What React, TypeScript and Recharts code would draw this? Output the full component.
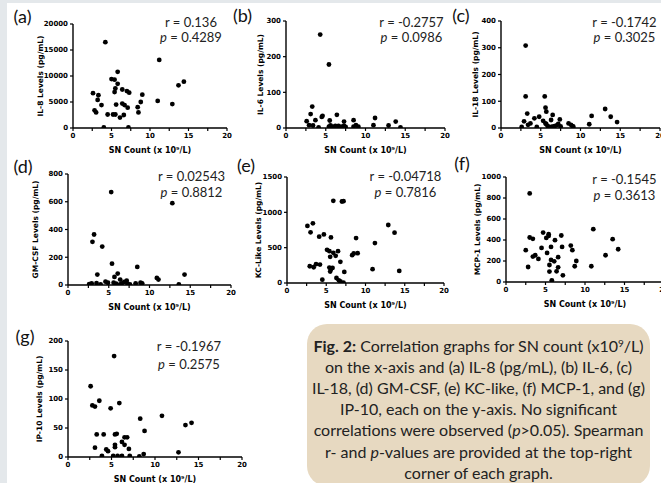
import React from 'react';
import { ScatterChart, Scatter, XAxis, YAxis } from 'recharts';

// ---------- data (x = SN count x10^9/L, y = cytokine level pg/mL) ----------
const xTicks = [0, 2.5, 5, 7.5, 10, 12.5, 15, 17.5, 20];
const xTitle = 'SN Count (x 10⁹/L)';

const il8: number[][] = [
  [4.2, 16500], [11.2, 13100], [5.8, 10800], [5.0, 9400], [5.4, 9300], [14.4, 8900], [13.7, 8200],
  [5.8, 8500], [5.5, 7600], [5.4, 6900], [6.4, 7400], [7.0, 7100], [7.3, 6800], [2.6, 6700],
  [9.0, 6400], [3.3, 6300], [3.2, 5400], [11.0, 5200], [8.8, 5000], [3.7, 4400], [5.6, 4500],
  [6.4, 4700], [6.7, 4400], [12.9, 4600], [7.1, 3900], [8.4, 4000], [2.8, 3400], [3.0, 3000],
  [8.5, 3000], [4.5, 2600], [5.2, 2600], [5.5, 2600], [6.6, 2500], [6.1, 2000], [4.0, 100], [7.2, 100],
];
const il6: number[][] = [
  [4.3, 262], [5.4, 178], [3.3, 60], [6.4, 37], [4.6, 34], [4.5, 31], [3.1, 39], [11.2, 28],
  [3.7, 22], [2.6, 19], [8.5, 22], [5.5, 21], [13.8, 18], [7.3, 18], [2.9, 8], [3.4, 7], [4.1, 2],
  [5.4, 4], [5.6, 7], [5.8, 4], [6.2, 6], [6.6, 6], [7.0, 4], [7.3, 6], [8.8, 8], [9.1, 4],
  [11.0, 8], [12.9, 7], [14.4, 2], [8.5, 4], [7.5, 3],
];
const il18: number[][] = [
  [3.1, 308], [3.1, 118], [5.5, 118], [5.6, 76], [5.7, 61], [3.3, 54], [13.1, 71], [6.5, 49],
  [4.8, 42], [11.4, 45], [13.8, 42], [4.2, 36], [5.3, 27], [6.3, 30], [7.4, 32], [2.9, 25],
  [14.6, 22], [3.7, 17], [3.4, 12], [8.5, 17], [8.8, 12], [11.1, 14], [5.7, 14], [5.9, 7],
  [5.6, 17], [6.7, 7], [7.0, 10], [7.2, 15], [7.5, 6], [9.1, 5], [2.6, 4], [4.5, 4], [6.4, 5], [9.0, 7],
];
const gmcsf: number[][] = [
  [5.3, 670], [12.8, 590], [3.2, 364], [3.0, 311], [4.2, 277], [5.4, 154], [8.5, 130], [3.6, 75],
  [14.3, 75], [6.1, 82], [5.7, 58], [10.9, 51], [11.1, 39], [6.4, 39], [7.2, 31], [6.9, 22],
  [4.6, 24], [4.9, 17], [5.6, 17], [5.9, 10], [6.6, 12], [7.3, 10], [8.3, 12], [8.9, 17],
  [9.1, 12], [2.6, 7], [2.9, 12], [3.5, 14], [4.0, 5], [13.6, 5], [6.4, 5], [7.6, 4],
];
const kcLike: number[][] = [
  [5.9, 1163], [7.0, 1153], [7.2, 1158], [12.9, 821], [3.3, 845], [2.6, 807], [3.0, 717],
  [13.7, 712], [4.7, 688], [4.1, 655], [5.6, 645], [8.8, 636], [11.2, 565], [5.1, 470],
  [5.4, 451], [6.5, 451], [5.9, 427], [9.0, 422], [8.5, 418], [8.3, 394], [6.2, 384], [5.5, 370],
  [6.8, 299], [2.9, 237], [3.4, 223], [3.7, 266], [4.2, 261], [5.4, 218], [5.8, 214], [5.6, 195],
  [5.5, 161], [7.3, 157], [10.9, 195], [14.3, 171], [4.5, 47], [6.3, 71], [6.6, 38], [6.8, 24], [7.2, 5],
];
const mcp1: number[][] = [
  [3.0, 844], [11.05, 503], [4.7, 471], [5.4, 455], [5.4, 439], [7.0, 443], [5.1, 420], [3.0, 424],
  [3.4, 411], [6.2, 398], [13.5, 408], [8.2, 347], [7.1, 334], [4.5, 325], [5.7, 334], [2.5, 303],
  [8.4, 303], [14.2, 312], [5.2, 277], [12.6, 255], [3.4, 242], [3.7, 255], [4.1, 220], [5.7, 210],
  [6.1, 197], [8.9, 200], [6.6, 236], [2.8, 143], [8.7, 150], [10.8, 150], [5.5, 162], [6.6, 140],
  [6.4, 102], [5.5, 99], [7.2, 64], [5.8, 16],
];
const ip10: number[][] = [
  [5.3, 174], [2.6, 122], [3.6, 97], [2.8, 89], [3.1, 87], [4.9, 84], [5.9, 93], [8.3, 66],
  [10.8, 71], [13.5, 55], [14.2, 59], [8.8, 45], [3.3, 39], [4.1, 39], [5.4, 39], [5.6, 40],
  [6.5, 34], [6.8, 34], [6.2, 26], [6.5, 21], [5.4, 21], [5.4, 17], [7.0, 14], [3.1, 16],
  [4.4, 13], [4.6, 10], [3.9, 2], [5.2, 2], [5.7, 2], [6.2, 2], [7.1, 2], [8.2, 1], [8.7, 5], [12.7, 8],
];

const panelLetters = ['(a)', '(b)', '(c)', '(d)', '(e)', '(f)', '(g)'];
const yTitles = [
  'IL-8 Levels (pg/mL)', 'IL-6 Levels (pg/mL)', 'IL-18 Levels (pg/mL)', 'GM-CSF Levels (pg/mL)',
  'KC-Like Levels (pg/mL)', 'MCP-1 Levels (pg/mL)', 'IP-10 Levels (pg/mL)',
];
const yTickSets = [
  [0, 5000, 10000, 15000, 20000], [0, 100, 200, 300], [0, 100, 200, 300, 400], [0, 200, 400, 600, 800],
  [0, 500, 1000, 1500], [0, 200, 400, 600, 800, 1000], [0, 50, 100, 150, 200],
];
const rValues = ['0.136', '-0.2757', '-0.1742', '0.02543', '-0.04718', '-0.1545', '-0.1967'];
const pValues = ['0.4289', '0.0986', '0.3025', '0.8812', '0.7816', '0.3613', '0.2575'];
const datasets = [il8, il6, il18, gmcsf, kcLike, mcp1, ip10];

// ---------- layout (page pixels) ----------
const layout = [
  { x0: 73, x20: 227, yTop: 24, yBot: 128, titleX: 40, sx: 191, ry: 22.7, py: 37.3, lx: 22.5, ly: 17.5 },
  { x0: 286, x20: 445, yTop: 21, yBot: 128, titleX: 260, sx: 411.5, ry: 22.7, py: 37.3, lx: 242.5, ly: 17 },
  { x0: 501, x20: 660, yTop: 21, yBot: 128, titleX: 475, sx: 624.5, ry: 22.7, py: 37.3, lx: 461, ly: 17 },
  { x0: 68, x20: 231, yTop: 174, yBot: 285, titleX: 35, sx: 191.5, ry: 176, py: 192.7, lx: 23, ly: 168 },
  { x0: 287, x20: 444, yTop: 177, yBot: 283, titleX: 258, sx: 405.5, ry: 176.7, py: 192.7, lx: 246, ly: 166.7 },
  { x0: 506, x20: 664, yTop: 177, yBot: 282, titleX: 477, sx: 624.5, ry: 179.3, py: 195, lx: 462, ly: 165 },
  { x0: 68, x20: 242, yTop: 341, yBot: 457, titleX: 39.3, sx: 189, ry: 346.7, py: 364, lx: 25, ly: 337.5 },
];

const TICK_FONT = { fontSize: 7, fontWeight: 700, fill: '#000', fontFamily: 'DejaVu Sans' };
const AXIS_STYLE = { stroke: '#000', strokeWidth: 1.4 };
const TICK_LINE = { stroke: '#000', strokeWidth: 1.2 };

const Dot = (props: any) => <circle cx={props.cx} cy={props.cy} r={2.4} fill="#000" />;

function Panel({ idx }: { idx: number }) {
  const L = layout[idx];
  const ML = 50, MT = 8, MR = 8, XH = 30;
  const pw = L.x20 - L.x0;
  const ph = L.yBot - L.yTop;
  const ticks = yTickSets[idx];
  const ymax = ticks[ticks.length - 1];
  const data = datasets[idx].map(([x, y]) => ({ x, y }));
  return (
    <div style={{ position: 'absolute', left: L.x0 - ML, top: L.yTop - MT }}>
      <ScatterChart width={pw + ML + MR} height={ph + MT + XH} margin={{ top: MT, right: MR, left: 0, bottom: 0 }}>
        <XAxis
          type="number" dataKey="x" domain={[0, 20]} ticks={xTicks} interval={0} height={XH}
          tickSize={3} tickMargin={2} axisLine={AXIS_STYLE} tickLine={TICK_LINE}
          tick={TICK_FONT} tickFormatter={(v: number) => (v % 5 === 0 ? String(v) : '')}
          allowDataOverflow
        />
        <YAxis
          type="number" dataKey="y" domain={[0, ymax]} ticks={ticks} interval={0} width={ML}
          tickSize={3} tickMargin={2} axisLine={AXIS_STYLE} tickLine={TICK_LINE}
          tick={TICK_FONT} allowDataOverflow
        />
        <Scatter data={data} shape={Dot} isAnimationActive={false} />
      </ScatterChart>
    </div>
  );
}

const captionLines: React.ReactNode[] = [
  <><tspan fontWeight={700}>Fig. 2:</tspan> Correlation graphs for SN count (x10<tspan dy={-5} fontSize={10}>9</tspan><tspan dy={5}>/L)</tspan></>,
  <>on the x-axis and (a) IL-8 (pg/mL), (b) IL-6, (c)</>,
  <>IL-18, (d) GM-CSF, (e) KC-like, (f) MCP-1, and (g)</>,
  <>IP-10, each on the y-axis. No significant</>,
  <>correlations were observed (<tspan fontStyle="italic">p</tspan>&gt;0.05). Spearman</>,
  <>r- and <tspan fontStyle="italic">p</tspan>-values are provided at the top-right</>,
  <>corner of each graph.</>,
];

export default function App() {
  return (
    <div style={{ position: 'absolute', left: 0, top: 0, width: 661, height: 483, overflow: 'hidden', background: '#fff' }}>
      <div style={{ position: 'absolute', left: 0, top: 0, width: 661, height: 3, background: '#e4e8eb' }} />
      <div style={{ position: 'absolute', left: 0, top: 0, width: 7, height: 483, background: '#e4e8eb' }} />
      {layout.map((_, i) => <Panel key={i} idx={i} />)}
      <svg width={661} height={483} style={{ position: 'absolute', left: 0, top: 0, pointerEvents: 'none' }}>
        {layout.map((L, i) => {
          const midY = (L.yTop + L.yBot) / 2;
          const midX = (L.x0 + L.x20) / 2;
          const tx = L.titleX + 2.7;
          return (
            <g key={i}>
              <text x={L.lx} y={L.ly + 5.4} textAnchor="middle" fontFamily="Lato" fontSize={18} fill="#111">{panelLetters[i]}</text>
              <text x={L.sx} y={L.ry + 4.7} textAnchor="middle" fontFamily="Lato" fontSize={13} fill="#222">r = {rValues[i]}</text>
              <text x={L.sx} y={L.py + 4.7} textAnchor="middle" fontFamily="Lato" fontSize={13} fill="#222"><tspan fontStyle="italic">p</tspan> = {pValues[i]}</text>
              <text x={tx} y={midY} transform={`rotate(-90 ${tx} ${midY})`} textAnchor="middle" fontFamily="DejaVu Sans" fontWeight={700} fontSize={7.5} fill="#000">{yTitles[i]}</text>
              <text x={midX} y={L.yBot + 22 + 2.9} textAnchor="middle" fontFamily="DejaVu Sans" fontWeight={700} fontSize={8} fill="#000">{xTitle}</text>
            </g>
          );
        })}
        <rect x={307} y={324} width={343} height={162} rx={20} ry={20} fill="#e7d9c1" />
        {captionLines.map((ln, i) => (
          <text key={i} x={478.5} y={351.5 + i * 21.2} textAnchor="middle" fontFamily="Lato" fontSize={16} fill="#222">{ln}</text>
        ))}
      </svg>
    </div>
  );
}
